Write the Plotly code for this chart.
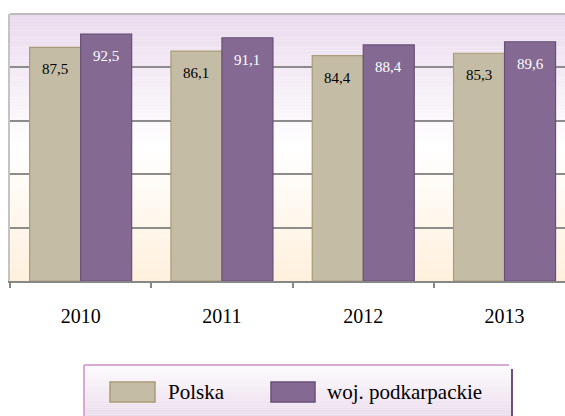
import plotly.graph_objects as go

# Data
years = ["2010", "2011", "2012", "2013"]
polska = [87.5, 86.1, 84.4, 85.3]
podkarpackie = [92.5, 91.1, 88.4, 89.6]
series_names = ["Polska", "woj. podkarpackie"]

W, H = 565, 416
ML, MT, MB = 10, 14, 135
PLOT_W = W - ML
PLOT_H = H - MT - MB
CAT_PX = 141.3          # width of one category in pixels
BAR_FRAC = 0.361        # bar width as fraction of category

BEIGE, BEIGE_LINE = "#c4bca4", "#a99c76"
PURPLE, PURPLE_LINE = "#846a92", "#6a4f78"
SERIF = "Liberation Serif"


def px_x(px):
    return (px - ML) / PLOT_W


def px_y(py):
    return (H - MB - py) / PLOT_H


def lerp(c1, c2, t):
    a = [int(c1[i:i + 2], 16) for i in (1, 3, 5)]
    b = [int(c2[i:i + 2], 16) for i in (1, 3, 5)]
    return "#%02x%02x%02x" % tuple(round(a[k] + (b[k] - a[k]) * t) for k in range(3))


def gradient(stops, t):
    for (t0, c0), (t1, c1) in zip(stops, stops[1:]):
        if t <= t1:
            return lerp(c0, c1, (t - t0) / (t1 - t0) if t1 > t0 else 0)
    return stops[-1][1]


fig = go.Figure()
fig.add_bar(x=years, y=polska, name=series_names[0],
            marker=dict(color=BEIGE, line=dict(color=BEIGE_LINE, width=1.2)))
fig.add_bar(x=years, y=podkarpackie, name=series_names[1],
            marker=dict(color=PURPLE, line=dict(color=PURPLE_LINE, width=1.2)))

shapes = []
# plot-area background: lavender at top, white in the middle, cream at the bottom
bg_stops = [(0.0, "#eadaed"), (0.5, "#ffffff"), (1.0, "#fff0dc")]
n = 80
for i in range(n):
    t = (i + 0.5) / n
    shapes.append(dict(type="rect", xref="paper", yref="paper",
                       x0=0, x1=1, y0=1 - i / n, y1=1 - (i + 1) / n,
                       fillcolor=gradient(bg_stops, t), line=dict(width=0),
                       layer="below"))
# top border of the plot area
shapes.append(dict(type="line", xref="paper", yref="paper", x0=0, x1=1,
                   y0=1, y1=1, line=dict(color="#bcbcbc", width=2)))

# legend box
LX0, LX1, LY0, LY1 = 84, 512, 365, 418
lg_stops = [(0.0, "#fdfbfd"), (1.0, "#eadbeb")]
m = 30
for i in range(m):
    t = (i + 0.5) / m
    y0 = LY0 + (LY1 - LY0) * i / m
    y1 = LY0 + (LY1 - LY0) * (i + 1) / m
    shapes.append(dict(type="rect", xref="paper", yref="paper",
                       x0=px_x(LX0), x1=px_x(LX1), y0=px_y(y0), y1=px_y(y1),
                       fillcolor=gradient(lg_stops, t), line=dict(width=0),
                       layer="above"))
shapes.append(dict(type="line", xref="paper", yref="paper",
                   x0=px_x(LX0), x1=px_x(LX1 - 3), y0=px_y(LY0), y1=px_y(LY0),
                   line=dict(color="#d8a9d2", width=2), layer="above"))
shapes.append(dict(type="line", xref="paper", yref="paper",
                   x0=px_x(LX0), x1=px_x(LX0), y0=px_y(LY0), y1=px_y(LY1),
                   line=dict(color="#d8a9d2", width=2), layer="above"))
shapes.append(dict(type="line", xref="paper", yref="paper",
                   x0=px_x(LX1), x1=px_x(LX1), y0=px_y(LY0 + 4), y1=px_y(LY1),
                   line=dict(color="#6e4e7c", width=2), layer="above"))

annotations = []
# legend swatches and names
legend_items = [(110, 155, 166, BEIGE, BEIGE_LINE, series_names[0]),
                (271, 315, 325, PURPLE, PURPLE_LINE, series_names[1])]
for sx0, sx1, tx, fill, edge, label in legend_items:
    shapes.append(dict(type="rect", xref="paper", yref="paper",
                       x0=px_x(sx0), x1=px_x(sx1), y0=px_y(382), y1=px_y(402),
                       fillcolor=fill, line=dict(color=edge, width=1.5),
                       layer="above"))
    annotations.append(dict(text=label, xref="paper", yref="paper",
                            x=px_x(tx), y=px_y(392), xanchor="left",
                            yanchor="middle", showarrow=False,
                            font=dict(family=SERIF, size=21, color="#000000")))

# value labels inside the tops of the bars
half = BAR_FRAC / 2
for i, (a, b) in enumerate(zip(polska, podkarpackie)):
    for off, v, col in ((-half, a, "#000000"), (half, b, "#ffffff")):
        annotations.append(dict(text=f"{v:.1f}".replace(".", ","),
                                x=i + off, y=v, xref="x", yref="y",
                                yshift=-22, showarrow=False,
                                xanchor="center", yanchor="middle",
                                font=dict(family=SERIF, size=15, color=col)))

fig.update_layout(
    width=W, height=H,
    margin=dict(l=ML, r=0, t=MT, b=MB),
    paper_bgcolor="#ffffff",
    plot_bgcolor="rgba(0,0,0,0)",
    barmode="group",
    bargap=1 - 2 * BAR_FRAC,
    bargroupgap=0,
    showlegend=False,
    shapes=shapes,
    annotations=annotations,
    font=dict(family=SERIF),
    xaxis=dict(type="category", range=[-0.5, -0.5 + PLOT_W / CAT_PX],
               showline=True, linecolor="#878787", linewidth=1.5,
               ticks="outside", tickson="boundaries", ticklen=5,
               tickcolor="#878787", tickwidth=1.5, showgrid=False,
               ticklabelstandoff=16,
               tickfont=dict(family=SERIF, size=20, color="#000000")),
    yaxis=dict(range=[0, 100], tickvals=[20, 40, 60, 80],
               showticklabels=False, showgrid=True, gridcolor="#8c8c8c",
               gridwidth=1.5, zeroline=False, showline=True,
               linecolor="#c4c4c4", linewidth=2, ticks=""),
)

fig.write_html("out.html")
